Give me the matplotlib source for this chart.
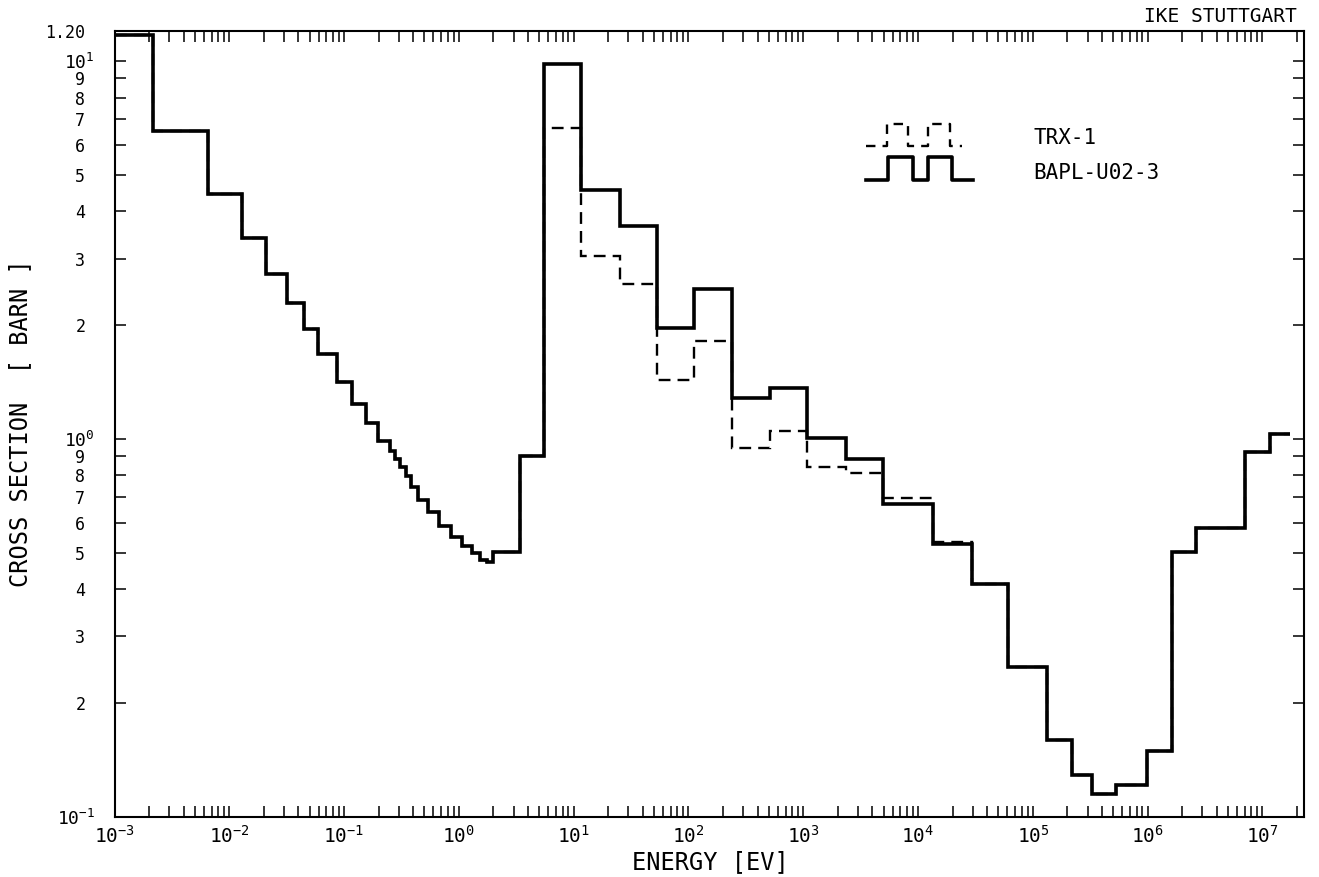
import matplotlib
matplotlib.use('Agg')
import matplotlib.pyplot as plt
from matplotlib.ticker import (FixedLocator, FixedFormatter, LogLocator,
                               LogFormatterMathtext, NullFormatter)

plt.rcParams['font.family'] = ['DejaVu Sans Mono', 'DejaVu Sans']
plt.rcParams['mathtext.default'] = 'regular'

# ---- data: group boundaries (eV) and group cross sections (barn) ----
edges = [1.0e-3, 2.18e-3, 6.49e-3, 1.283e-2, 2.09e-2, 3.16e-2, 4.48e-2,
         5.96e-2, 8.61e-2, 0.1165, 0.155, 0.1986, 0.25, 0.2777, 0.307,
         0.346, 0.380, 0.443, 0.541, 0.674, 0.848, 1.057, 1.29, 1.527,
         1.746, 1.995, 3.41, 5.5, 11.6, 25.3, 52.8, 111.7, 241.0, 513.0,
         1084.0, 2339.0, 4920.0, 13550.0, 29300.0, 61100.0, 131800.0,
         217800.0, 325000.0, 530000.0, 980000.0, 1.637e6, 2.634e6,
         7.05e6, 1.16e7, 1.74e7]

bapl = [11.7, 6.53, 4.44, 3.39, 2.735, 2.29, 1.956, 1.672, 1.416, 1.24,
        1.103, 0.985, 0.927, 0.882, 0.843, 0.796, 0.746, 0.690, 0.639,
        0.587, 0.550, 0.519, 0.499, 0.479, 0.471, 0.501, 0.903, 9.8, 4.55,
        3.66, 1.968, 2.495, 1.279, 1.365, 1.006, 0.882, 0.673, 0.528,
        0.414, 0.249, 0.160, 0.1286, 0.1148, 0.121, 0.149, 0.501, 0.581,
        0.922, 1.031]

trx = [11.7, 6.53, 4.44, 3.39, 2.735, 2.29, 1.956, 1.672, 1.416, 1.24,
       1.103, 0.985, 0.927, 0.882, 0.843, 0.796, 0.746, 0.690, 0.639,
       0.587, 0.550, 0.519, 0.499, 0.479, 0.471, 0.501, 0.903, 6.66, 3.045,
       2.573, 1.43, 1.814, 0.947, 1.047, 0.841, 0.813, 0.698, 0.534,
       0.414, 0.249, 0.160, 0.1286, 0.1148, 0.121, 0.149, 0.501, 0.581,
       0.922, 1.031]

series_names = ['TRX-1', 'BAPL-U02-3']

x_limits = (1.0e-3, 2.3e7)
y_limits = (0.1, 12.0)

y_major = [0.1, 1.0, 10.0]
y_major_labels = ['$10^{-1}$', '$10^{0}$', '$10^{1}$']
y_minor = [0.2, 0.3, 0.4, 0.5, 0.6, 0.7, 0.8, 0.9,
           2, 3, 4, 5, 6, 7, 8, 9, 12.0]
y_minor_labels = ['2', '3', '4', '5', '6', '7', '8', '9',
                  '2', '3', '4', '5', '6', '7', '8', '9', '1.20']

# ---- figure ----
fig = plt.figure(figsize=(13.19, 8.77), dpi=100)
ax = fig.add_axes([0.08681, 0.06876, 0.90182, 0.89590])

ax.stairs(trx, edges, baseline=None, color='black', linewidth=1.7,
          linestyle=(0, (5, 3)))
ax.stairs(bapl, edges, baseline=None, color='black', linewidth=2.6)

ax.set_xscale('log')
ax.set_yscale('log')
ax.set_xlim(*x_limits)
ax.set_ylim(*y_limits)

ax.xaxis.set_major_locator(LogLocator(base=10, numticks=30))
ax.xaxis.set_minor_locator(LogLocator(base=10, subs=range(2, 10), numticks=60))
ax.xaxis.set_major_formatter(LogFormatterMathtext())
ax.xaxis.set_minor_formatter(NullFormatter())

ax.yaxis.set_major_locator(FixedLocator(y_major))
ax.yaxis.set_major_formatter(FixedFormatter(y_major_labels))
ax.yaxis.set_minor_locator(FixedLocator(y_minor))
ax.yaxis.set_minor_formatter(FixedFormatter(y_minor_labels))

ax.tick_params(axis='x', which='both', direction='in', top=True, bottom=True,
               length=8, width=1.1, labelsize=14, pad=6)
ax.tick_params(axis='y', which='both', direction='in', left=True, right=True,
               length=8, width=1.1)
ax.tick_params(axis='y', which='major', labelsize=13, pad=14)
ax.tick_params(axis='y', which='minor', labelsize=12, pad=21)

for sp in ax.spines.values():
    sp.set_linewidth(1.5)

# ---- legend (drawn like the original plotter legend) ----
leg_dash_x = [0.6318, 0.6492, 0.6492, 0.6673, 0.6673, 0.6842, 0.6842,
              0.7024, 0.7024, 0.7122]
leg_dash_y = [0.8540, 0.8540, 0.8817, 0.8817, 0.8540, 0.8540, 0.8817,
              0.8817, 0.8540, 0.8540]
leg_solid_x = [0.6318, 0.6505, 0.6505, 0.6716, 0.6716, 0.6842, 0.6842,
               0.7038, 0.7038, 0.7220]
leg_solid_y = [0.8104, 0.8104, 0.8400, 0.8400, 0.8104, 0.8104, 0.8400,
               0.8400, 0.8104, 0.8104]
ax.plot(leg_dash_x, leg_dash_y, transform=ax.transAxes, color='black',
        linewidth=1.7, linestyle=(0, (4, 3)))
ax.plot(leg_solid_x, leg_solid_y, transform=ax.transAxes, color='black',
        linewidth=2.6)
ax.text(0.7722, 0.8638, series_names[0], transform=ax.transAxes,
        ha='left', va='center', fontsize=15)
ax.text(0.7722, 0.8192, series_names[1], transform=ax.transAxes,
        ha='left', va='center', fontsize=15)

# ---- labels ----
fig.text(710 / 1319, 1 - 861.7 / 877, 'ENERGY [EV]', ha='center',
         va='center', fontsize=17)
fig.text(20 / 1319, 1 - 423 / 877, 'CROSS SECTION  [ BARN ]', rotation=90,
         ha='center', va='center', fontsize=17)
fig.text(1297 / 1319, 1 - 17 / 877, 'IKE STUTTGART', ha='right',
         va='center', fontsize=14)

fig.savefig('out.png', dpi=100)
